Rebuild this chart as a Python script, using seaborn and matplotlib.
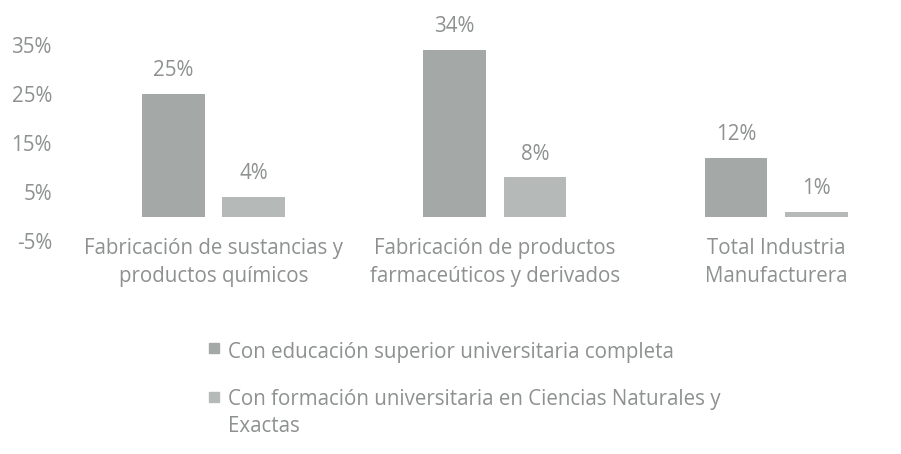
import pandas as pd
import matplotlib.pyplot as plt
import matplotlib.patches as mpatches
import seaborn as sns

# Data
categorias = ["Fabricación de sustancias y\nproductos químicos",
              "Fabricación de productos\nfarmaceúticos y derivados",
              "Total Industria\nManufacturera"]
series = ["Con educación superior universitaria completa",
          "Con formación universitaria en Ciencias Naturales y\nExactas"]
educacion_superior = [25, 34, 12]
ciencias_naturales = [4, 8, 1]
y_ticks = [-5, 5, 15, 25, 35]
colores = ["#a4a9a7", "#b5b9b7"]

data = pd.DataFrame({
    "Categoria": categorias * 2,
    "Serie": [series[0]] * 3 + [series[1]] * 3,
    "Valor": educacion_superior + ciencias_naturales,
})

sns.set_style("white")
plt.rcParams["font.family"] = ["Open Sans", "DejaVu Sans"]
text_color = "#8d918f"
fs = 14.8

fig = plt.figure(figsize=(9.01, 4.54), dpi=100)
ax = fig.add_axes([0.0807, 0.469, 0.937, 0.432])

sns.barplot(data=data, x="Categoria", y="Valor", hue="Serie", order=categorias,
            hue_order=series, palette=colores, width=0.572, gap=0.22,
            saturation=1, linewidth=0, legend=False, ax=ax)

for cont in ax.containers:
    ax.bar_label(cont, fmt="%d%%", padding=9, color=text_color, fontsize=fs)

ax.set_xlim(-0.5, 2.5)
ax.set_ylim(-5, 35)
ax.set_yticks(y_ticks)
ax.set_yticklabels([f"{t}%" for t in y_ticks])
ax.set_xlabel("")
ax.set_ylabel("")
ax.tick_params(axis="y", length=0, pad=15, labelsize=fs, labelcolor=text_color)
ax.tick_params(axis="x", length=0, pad=-2.5, labelsize=fs, labelcolor=text_color)
for lab in ax.get_xticklabels():
    lab.set_linespacing(1.45)
sns.despine(ax=ax, left=True, bottom=True, top=True, right=True)

# Legend below the chart
leg_y = [353, 400]
sq_y = [348, 397]
for color, label, y, sy in zip(colores, series, leg_y, sq_y):
    fig.patches.append(mpatches.Rectangle((209 / 901, 1 - (sy + 5) / 454), 10 / 901, 10 / 454,
                                          transform=fig.transFigure, color=color))
    fig.text(228 / 901, 1 - (y - 11) / 454, label, color=text_color, fontsize=fs,
             va="top", ha="left", linespacing=1.36)

fig.savefig("out.png", dpi=100)
